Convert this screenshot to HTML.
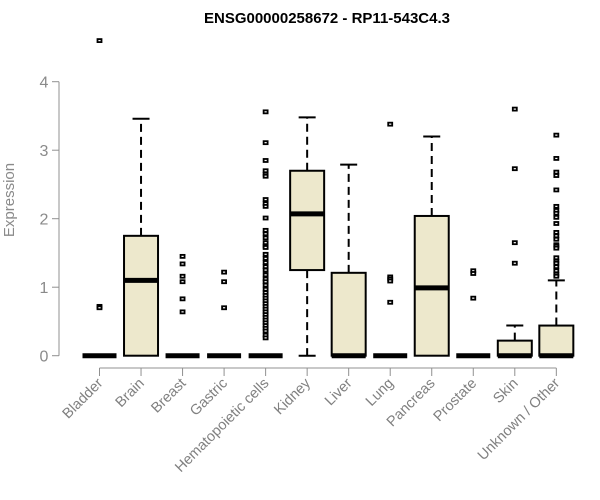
<!DOCTYPE html>
<html><head><meta charset="utf-8"><style>
body{margin:0;background:#fff}
svg{display:block;font-family:"Liberation Sans",Arial,sans-serif}
</style></head><body>
<svg id="chart" width="600" height="500">
<text x="327" y="23" text-anchor="middle" font-size="15" font-weight="bold">ENSG00000258672 - RP11-543C4.3</text>
<text transform="translate(14,200) rotate(-90)" text-anchor="middle" font-size="15" fill="#8a8a8a">Expression</text>
<g id="axes"></g><g id="boxes"></g>
</svg>
<script>
const categories=["Bladder","Brain","Breast","Gastric","Hematopoietic cells","Kidney","Liver","Lung","Pancreas","Prostate","Skin","Unknown / Other"];
const q1=[0,0,0,0,0,1.25,0,0,0,0,0,0];
const medians=[0,1.1,0,0,0,2.07,0,0,0.99,0,0,0];
const q3=[0,1.75,0,0,0,2.7,1.21,0,2.04,0,0.22,0.44];
const whiskLo=[0,0,0,0,0,0,0,0,0,0,0,0];
const whiskHi=[0,3.46,0,0,0,3.48,2.79,0,3.2,0,0.44,1.1];
const outliers=[[4.6,0.72,0.7],[],[1.45,1.34,1.16,1.08,0.83,0.64],[1.22,1.08,0.7],
[3.56,3.11,2.85,2.7,2.65,2.62,2.28,2.22,2.18,2.01,1.83,1.78,1.72,1.65,1.6,1.58,1.48,1.42,1.36,1.3,1.25,1.18,1.12,1.08,1.03,0.97,0.92,0.88,0.84,0.8,0.76,0.72,0.68,0.64,0.6,0.56,0.52,0.48,0.44,0.4,0.36,0.3,0.26],
[],[],[3.38,1.15,1.12,1.09,0.78],[],[1.24,1.2,0.84],[3.6,2.73,1.65,1.35],
[3.22,2.88,2.68,2.63,2.42,2.18,2.12,2.08,2.02,1.93,1.8,1.75,1.7,1.62,1.6,1.57,1.43,1.38,1.35,1.3,1.24,1.19,1.16]];
const yTicks=[0,1,2,3,4];
const NS="http://www.w3.org/2000/svg";
const y=v=>355.7-v*68.5;
const x=i=>99.5+i*41.53;
function mk(t,a,p){const e=document.createElementNS(NS,t);for(const k in a)e.setAttribute(k,a[k]);p.appendChild(e);return e;}
const ax=document.getElementById('axes'),bx=document.getElementById('boxes');
const yl=mk('line',{x1:59,x2:59,y1:y(0),y2:y(4),stroke:'#909090'},ax);


yTicks.forEach(t=>{
 const l=mk('line',{x1:52,x2:59,y1:y(t),y2:y(t),stroke:'#909090'},ax);
 
 
 const tx=mk('text',{x:44,y:y(t)+6,'text-anchor':'middle','font-size':16,fill:'#8a8a8a'},ax);
 tx.textContent=t;
 
 
});
const xl=mk('line',{x1:x(0),x2:x(categories.length-1),y1:368,y2:368,stroke:'#909090'},ax);


const hw=17;
categories.forEach((c,i)=>{
 const cx=x(i);
 const tk=mk('line',{x1:cx,x2:cx,y1:368,y2:376,stroke:'#909090'},ax);
 
 
 const lb=mk('text',{x:cx+4,y:384,'text-anchor':'end','font-size':14.5,fill:'#808080',transform:`rotate(-45 ${cx+4} 384)`},ax);
 lb.textContent=c;
 
 
 const g=mk('g',{},bx);
 
 
 if(whiskHi[i]>q3[i]){
  mk('line',{x1:cx,x2:cx,y1:y(q3[i]),y2:y(whiskHi[i]),stroke:'#000','stroke-width':2,'stroke-dasharray':'8,5'},g);
  mk('line',{x1:cx-8.5,x2:cx+8.5,y1:y(whiskHi[i]),y2:y(whiskHi[i]),stroke:'#000','stroke-width':2},g);
 }
 if(q1[i]>whiskLo[i]){
  mk('line',{x1:cx,x2:cx,y1:y(q1[i]),y2:y(whiskLo[i]),stroke:'#000','stroke-width':2,'stroke-dasharray':'8,5'},g);
  mk('line',{x1:cx-8.5,x2:cx+8.5,y1:y(whiskLo[i]),y2:y(whiskLo[i]),stroke:'#000','stroke-width':2},g);
 }
 if(q3[i]>q1[i]) mk('rect',{x:cx-hw,y:y(q3[i]),width:hw*2,height:y(q1[i])-y(q3[i]),fill:'#ede8cc',stroke:'#000','stroke-width':2},g);
 mk('line',{x1:cx-hw,x2:cx+hw,y1:y(medians[i]),y2:y(medians[i]),stroke:'#000','stroke-width':5},g);
 outliers[i].forEach(v=>{
  const p=mk('rect',{x:cx-2,y:y(v)-1.5,width:4,height:3,fill:'#fff',stroke:'#000','stroke-width':1.8},g);
  
  
 });
});
</script>
</body></html>
